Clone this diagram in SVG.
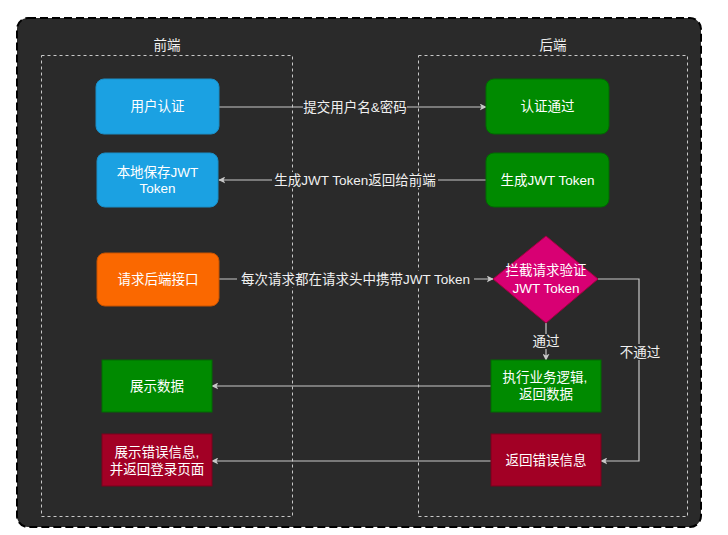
<svg xmlns="http://www.w3.org/2000/svg" width="728" height="535" viewBox="0 0 728 535">
<style>
.t{font-family:"Liberation Sans","Noto Sans CJK SC",sans-serif;font-size:13.5px;fill:#ffffff;text-anchor:middle;dominant-baseline:central}
.lbl{font-family:"Liberation Sans","Noto Sans CJK SC",sans-serif;font-size:13.5px;fill:#f0f0f0;text-anchor:middle;dominant-baseline:central}
.e{fill:none;stroke:#c8c8c8;stroke-width:1.2}
.lb{fill:#2a2a2a}
.grp{fill:none;stroke:#c8c8c8;stroke-width:1;stroke-dasharray:3 3}
</style>
<defs>
<marker id="ar" viewBox="0 0 10 10" refX="9" refY="5" markerWidth="7" markerHeight="7" markerUnits="userSpaceOnUse" orient="auto">
<path d="M0,0 L10,5 L0,10 L2.5,5 Z" fill="#c8c8c8"/>
</marker>
</defs>
<rect width="728" height="535" fill="#ffffff"/>
<rect x="17" y="18" width="684" height="509" rx="11" fill="#2a2a2a" stroke="#000000" stroke-width="2" stroke-dasharray="8 4"/>
<g id="frontend-group">
<rect class="grp" x="41.5" y="55.5" width="251" height="461"/>
<text class="lbl" x="167" y="45">前端</text>
</g>
<g id="backend-group">
<rect class="grp" x="418.5" y="55.5" width="269" height="461"/>
<text class="lbl" x="553" y="45">后端</text>
</g>
<g id="connectors">
<path class="e" d="M219,107 L486,107" marker-end="url(#ar)"/>
<rect class="lb" x="303" y="99" width="104" height="16"/>
<text class="lbl" x="355" y="107">提交用户名&amp;密码</text>
<path class="e" d="M486,180 L219,180" marker-end="url(#ar)"/>
<rect class="lb" x="272" y="172" width="166" height="16"/>
<text class="lbl" x="355" y="180">生成JWT Token返回给前端</text>
<path class="e" d="M219,279 L493,279" marker-end="url(#ar)"/>
<rect class="lb" x="237" y="271" width="237" height="16"/>
<text class="lbl" x="355.5" y="279">每次请求都在请求头中携带JWT Token</text>
<path class="e" d="M546,323 L546,360" marker-end="url(#ar)"/>
<rect class="lb" x="532" y="334" width="28" height="15"/>
<text class="lbl" x="546" y="341">通过</text>
<path class="e" d="M598,279 L639,279 L639,461 L601,461" marker-end="url(#ar)"/>
<rect class="lb" x="619" y="344" width="42" height="16"/>
<text class="lbl" x="640" y="352">不通过</text>
<path class="e" d="M491,386 L212,386" marker-end="url(#ar)"/>
<path class="e" d="M491,461 L212,461" marker-end="url(#ar)"/>
</g>
<g id="user-auth">
<rect x="96" y="79" width="123" height="55" rx="8" fill="#1ba1e2" stroke="#1a8fc8" stroke-width="1"/>
<text class="t" x="157.5" y="106.5">用户认证</text>
</g>
<g id="save-token">
<rect x="97" y="153" width="121" height="54" rx="8" fill="#1ba1e2" stroke="#1a8fc8" stroke-width="1"/>
<text class="t" x="157.5" y="172">本地保存JWT</text>
<text class="t" x="157.5" y="188">Token</text>
</g>
<g id="request-api">
<rect x="97" y="253" width="122" height="53" rx="8" fill="#fa6800" stroke="#c75300" stroke-width="1"/>
<text class="t" x="158" y="279.5">请求后端接口</text>
</g>
<g id="show-data">
<rect x="102" y="360" width="110" height="52" fill="#008a00" stroke="#006b00" stroke-width="1"/>
<text class="t" x="157" y="386">展示数据</text>
</g>
<g id="show-error">
<rect x="102" y="434" width="110" height="52" fill="#a20025" stroke="#7a001c" stroke-width="1"/>
<text class="t" x="157" y="452">展示错误信息,</text>
<text class="t" x="157" y="469">并返回登录页面</text>
</g>
<g id="auth-pass">
<rect x="486" y="79" width="123" height="55" rx="8" fill="#008a00" stroke="#006b00" stroke-width="1"/>
<text class="t" x="547.5" y="106.5">认证通过</text>
</g>
<g id="gen-token">
<rect x="486" y="153" width="123" height="54" rx="8" fill="#008a00" stroke="#006b00" stroke-width="1"/>
<text class="t" x="547.5" y="180">生成JWT Token</text>
</g>
<g id="verify-token">
<path d="M546,236 L598,279 L546,323 L493,279 Z" fill="#d80073" stroke="#a50040" stroke-width="1"/>
<text class="t" x="546" y="270">拦截请求验证</text>
<text class="t" x="546" y="288">JWT Token</text>
</g>
<g id="exec-logic">
<rect x="491" y="360" width="110" height="52" fill="#008a00" stroke="#006b00" stroke-width="1"/>
<text class="t" x="545" y="377">执行业务逻辑,</text>
<text class="t" x="546" y="394">返回数据</text>
</g>
<g id="return-error">
<rect x="491" y="434" width="110" height="52" fill="#a20025" stroke="#7a001c" stroke-width="1"/>
<text class="t" x="546" y="460">返回错误信息</text>
</g>
</svg>
